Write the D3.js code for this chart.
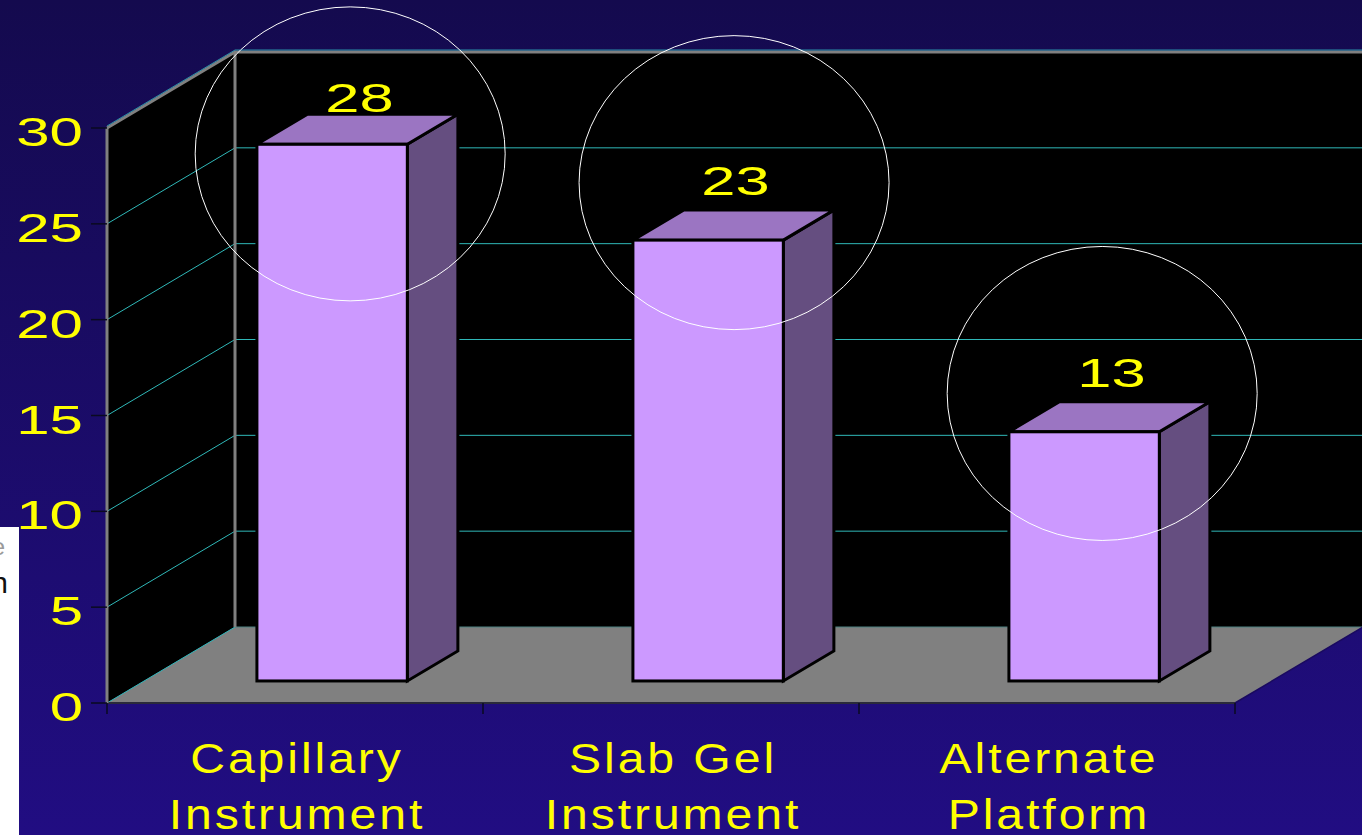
<!DOCTYPE html>
<html>
<head>
<meta charset="utf-8">
<script src="https://cdnjs.cloudflare.com/ajax/libs/d3/7.8.5/d3.min.js"></script>
<style>
  html, body { margin: 0; padding: 0; overflow: hidden; background: #1a0b66; }
  svg { display: block; }
</style>
</head>
<body>
<svg id="chart" width="1362" height="835"></svg>
<script>
// ---- data ----
const categories = [["Capillary", "Instrument"], ["Slab Gel", "Instrument"], ["Alternate", "Platform"]];
const values = [28, 23, 13];
const yTicks = [0, 5, 10, 15, 20, 25, 30];
// hand-drawn highlight rings: centre along the category axis (band units) and in value units
const ringCenterCat = [0.548, 1.569, 2.548];
const ringCenterVal = [27.5, 26.0, 15.0];

// ---- layout ----
const W = 1362, H = 835;
const DX = 128, DY = -76;          // 3-D depth offset of the plot box
const barFront = 0.29, barBack = 0.685; // bar depth as fraction of box depth
const barFrac = 0.4;               // bar width relative to the category band
const FONT = "Liberation Sans, Arial, sans-serif";

const svg = d3.select("#chart");
const defs = svg.append("defs");

const bg = defs.append("linearGradient").attr("id", "bg").attr("x1", 0).attr("y1", 0).attr("x2", 0).attr("y2", 1);
bg.append("stop").attr("offset", "0%").attr("stop-color", "#140a4e");
bg.append("stop").attr("offset", "100%").attr("stop-color", "#210d82");
svg.append("rect").attr("width", W).attr("height", H).attr("fill", "url(#bg)");

const x = d3.scaleBand().domain(d3.range(categories.length)).range([107, 1235]).paddingInner(0).paddingOuter(0);
const xc = d3.scaleLinear().domain([0, categories.length]).range([107, 1235]);
const y = d3.scaleLinear().domain([0, 30]).range([703, 128]);

const x0 = x.range()[0], x1 = x.range()[1];
const yb = y(0), yt = y(30);

// walls
svg.append("polygon")
  .attr("points", [[x0, yb], [x0, yt], [x0 + DX, yt + DY], [x0 + DX, yb + DY]].join(" "))
  .attr("fill", "#000");
svg.append("rect")
  .attr("x", x0 + DX).attr("y", yt + DY).attr("width", W - (x0 + DX) + 10).attr("height", yb - yt)
  .attr("fill", "#000");

// gridlines on the side wall and back wall
const grid = svg.append("g").attr("stroke", "#2fb8b8").attr("stroke-width", 1).attr("fill", "none");
yTicks.filter(v => v > 0 && v < 30).forEach(v => {
  grid.append("line").attr("x1", x0).attr("y1", y(v)).attr("x2", x0 + DX).attr("y2", y(v) + DY);
  grid.append("line").attr("x1", x0 + DX).attr("y1", y(v) + DY).attr("x2", W + 5).attr("y2", y(v) + DY);
});

// floor
svg.append("polygon")
  .attr("points", [[x0, yb], [x1, yb], [x1 + DX, yb + DY], [x0 + DX, yb + DY]].join(" "))
  .attr("fill", "#808080");
svg.append("line").attr("x1", x0).attr("y1", yb).attr("x2", x0 + DX).attr("y2", yb + DY)
  .attr("stroke", "#2fb8b8").attr("stroke-width", 1);
svg.append("line").attr("x1", x0 + DX).attr("y1", yb + DY).attr("x2", W + 5).attr("y2", yb + DY)
  .attr("stroke", "#4c8080").attr("stroke-width", 1);
svg.append("line").attr("x1", x1).attr("y1", yb).attr("x2", x1 + DX).attr("y2", yb + DY)
  .attr("stroke", "#1a0a60").attr("stroke-width", 1.5);
svg.append("line").attr("x1", x0).attr("y1", yb).attr("x2", x1).attr("y2", yb)
  .attr("stroke", "#2a2a3a").attr("stroke-width", 2);

// wall edges
const edge = svg.append("g").attr("stroke", "#808080").attr("stroke-width", 3).attr("fill", "none");
edge.append("line").attr("x1", x0).attr("y1", yb).attr("x2", x0).attr("y2", yt);
edge.append("line").attr("x1", x0 + DX).attr("y1", yb + DY).attr("x2", x0 + DX).attr("y2", yt + DY);
edge.append("polyline").attr("points", [[x0, yt], [x0 + DX, yt + DY], [W + 5, yt + DY]].join(" "));
svg.append("polyline").attr("points", [[x0, yt - 2], [x0 + DX, yt + DY - 2], [W + 5, yt + DY - 2]].join(" "))
  .attr("fill", "none").attr("stroke", "#2a8fa8").attr("stroke-width", 1);

// bars
const bw = x.bandwidth() * barFrac;
const bars = svg.append("g").attr("stroke", "#000").attr("stroke-width", 3).attr("stroke-linejoin", "miter");
values.forEach((v, i) => {
  const l = x(i) + (x.bandwidth() - bw) / 2, r = l + bw;
  const fx = DX * barFront, fy = DY * barFront, bx = DX * barBack, by = DY * barBack;
  const top = y(v), bot = y(0);
  bars.append("polygon") // side
    .attr("points", [[r + fx, top + fy], [r + bx, top + by], [r + bx, bot + by], [r + fx, bot + fy]].join(" "))
    .attr("fill", "#654e80");
  bars.append("polygon") // top
    .attr("points", [[l + fx, top + fy], [r + fx, top + fy], [r + bx, top + by], [l + bx, top + by]].join(" "))
    .attr("fill", "#9b75c2");
  bars.append("rect") // front
    .attr("x", l + fx).attr("y", top + fy).attr("width", bw).attr("height", bot - top)
    .attr("fill", "#cc99ff");
});

// value labels
const mid = (barFront + barBack) / 2;
values.forEach((v, i) => {
  const cx = x(i) + x.bandwidth() / 2 + DX * mid + 2;
  const backTop = y(v) + DY * barBack;
  const base = Math.max(backTop - 15, yt - 16);
  svg.append("text")
    .attr("transform", `translate(${cx},${base}) scale(1.5,1)`)
    .attr("text-anchor", "middle")
    .attr("font-family", FONT)
    .attr("font-size", 41)
    .attr("fill", "#ffff00")
    .text(v);
});

// highlight rings
ringCenterCat.forEach((c, i) => {
  svg.append("ellipse")
    .attr("cx", xc(c) + DX * barFront)
    .attr("cy", y(ringCenterVal[i]) + DY * barFront)
    .attr("rx", 155).attr("ry", 147)
    .attr("fill", "none").attr("stroke", "#ffffff").attr("stroke-width", 1);
});

// axis ticks
const ticks = svg.append("g").attr("stroke", "#0a0a20").attr("stroke-width", 1.5);
yTicks.forEach(v => {
  ticks.append("line").attr("x1", x0 - 16).attr("x2", x0).attr("y1", y(v)).attr("y2", y(v));
});
d3.range(categories.length + 1).forEach(i => {
  const px = xc(i);
  ticks.append("line").attr("x1", px).attr("x2", px).attr("y1", yb).attr("y2", yb + 11);
});

// y tick labels
yTicks.forEach(v => {
  svg.append("text")
    .attr("transform", `translate(83,${y(v) + 18}) scale(1.5,1)`)
    .attr("text-anchor", "end")
    .attr("font-family", FONT)
    .attr("font-size", 40)
    .attr("fill", "#ffff00")
    .text(v);
});

// category labels (two lines each)
categories.forEach((lines, i) => {
  const t = svg.append("text")
    .attr("transform", `translate(${x(i) + x.bandwidth() / 2 + 2},0) scale(1.12,1)`)
    .attr("text-anchor", "middle")
    .attr("font-family", FONT)
    .attr("font-size", 43)
    .attr("letter-spacing", "2.6px")
    .attr("fill", "#ffff00");
  lines.forEach((s, k) => {
    t.append("tspan").attr("x", 0).attr("y", 773 + k * 56).text(s);
  });
});

// overlapping note box at the left edge
defs.append("clipPath").attr("id", "noteClip")
  .append("rect").attr("x", 0).attr("y", 527).attr("width", 19).attr("height", 308);
svg.append("rect").attr("x", 0).attr("y", 527).attr("width", 19).attr("height", 308).attr("fill", "#ffffff");
const note = svg.append("g").attr("clip-path", "url(#noteClip)").attr("font-family", FONT);
note.append("text").attr("x", 5).attr("y", 555).attr("text-anchor", "end")
  .attr("font-size", 24).attr("fill", "#9a9a9a").text("e");
note.append("text").attr("x", 8).attr("y", 593).attr("text-anchor", "end")
  .attr("font-size", 30).attr("fill", "#111").text("n");
</script>
</body>
</html>
